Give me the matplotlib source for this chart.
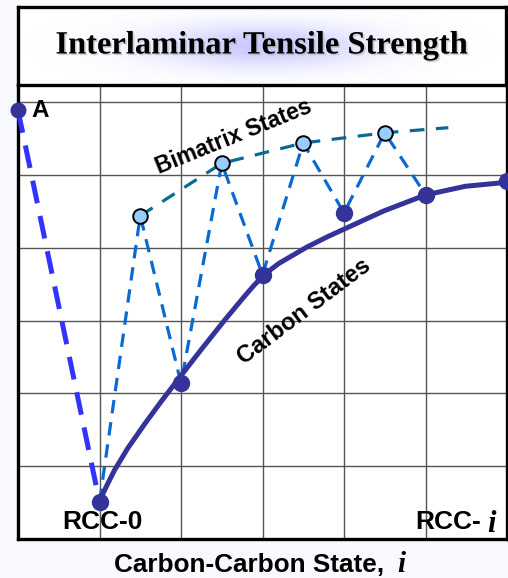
import matplotlib
matplotlib.use('Agg')
import matplotlib.pyplot as plt
import matplotlib.patheffects as pe
import numpy as np

# ── data ─────────────────────────────────────────────────────────────────────
point_a = (0.0, 5.89)

rcc_x = [1, 2, 3, 4, 5, 6]
rcc_y = [0.51, 2.14, 3.63, 4.48, 4.73, 4.92]

bim_x = [1.5, 2.5, 3.5, 4.5]
bim_y = [4.44, 5.16, 5.44, 5.58]

bim_trend_x = [1.5, 2.5, 3.5, 4.5, 5.28]
bim_trend_y = [4.44, 5.16, 5.44, 5.58, 5.65]

carbon_curve_x = [1.0, 1.082, 1.184, 1.347, 1.551, 1.755, 1.992, 2.245,
                  2.531, 2.776, 2.9, 3.0, 3.1, 3.2, 3.33, 3.551, 3.796, 4.0,
                  4.49, 5.0, 5.49, 6.0]
carbon_curve_y = [0.52, 0.717, 0.945, 1.247, 1.575, 1.886, 2.233, 2.598,
                  3.0, 3.33, 3.49, 3.60, 3.70, 3.785, 3.87, 4.014, 4.151,
                  4.256, 4.507, 4.726, 4.845, 4.90]

# zig-zag path: RCC-0 -> bimatrix -> carbon -> ... -> carbon state 5
zig_x, zig_y = [rcc_x[0]], [rcc_y[0]]
for k in range(len(bim_x)):
    zig_x += [bim_x[k], rcc_x[k + 1]]
    zig_y += [bim_y[k], rcc_y[k + 1]]

TITLE = 'Interlaminar Tensile Strength'
XLABEL = 'Carbon-Carbon State,'

# ── style ────────────────────────────────────────────────────────────────────
plt.rcParams['font.family'] = ['Liberation Sans', 'DejaVu Sans']

CARBON = '#333399'
A_BLUE = '#3333ff'
ZIG = '#0a6ad2'
BIM_LINE = '#0a6a96'
BIM_FACE = '#99ccff'

W, H = 508, 578
fig = plt.figure(figsize=(W / 100, H / 100), dpi=100)
fig.patch.set_facecolor('#f8f9fd')

# ── main plot area ───────────────────────────────────────────────────────────
ax = fig.add_axes([18 / W, 39 / H, 489 / W, 454 / H])
ax.set_facecolor('white')
ax.set_xlim(0, 6)
ax.set_ylim(0, 454 / 72.8)
ax.set_xticks(range(7))
ax.set_yticks(range(7))
ax.tick_params(length=0, labelbottom=False, labelleft=False)
ax.grid(True, color='#555555', lw=1.0)
for s in ['left', 'bottom', 'right']:
    ax.spines[s].set_linewidth(2.4)
    ax.spines[s].set_color('black')
ax.spines['top'].set_visible(False)

# A -> RCC-0 dashed line
ax.plot([point_a[0], rcc_x[0]], [point_a[1], rcc_y[0]], color=A_BLUE,
        lw=3.6, dashes=(4.6, 2.6), zorder=3, clip_on=False)

# zig-zag between carbon and bimatrix states
ax.plot(zig_x, zig_y, color=ZIG, lw=2.3, dashes=(4.2, 2.8), zorder=3)

# bimatrix trend
ax.plot(bim_trend_x, bim_trend_y, color=BIM_LINE, lw=2.3,
        dashes=(4.6, 3.6), zorder=3)

# carbon states curve
ax.plot(carbon_curve_x, carbon_curve_y, color=CARBON, lw=3.6,
        solid_joinstyle='round', solid_capstyle='round', zorder=4,
        clip_on=False)

# markers
ax.plot(rcc_x, rcc_y, 'o', color=CARBON, ms=11.5, zorder=6, clip_on=False)
ax.plot(*point_a, 'o', color=CARBON, ms=10.5, zorder=6, clip_on=False)
ax.plot(bim_x, bim_y, 'o', mfc=BIM_FACE, mec='black', mew=1.4, ms=10.5,
        zorder=6)

# labels
ax.text(0.17, 5.88, 'A', fontsize=17.5, fontweight='bold', ha='left',
        va='center', zorder=7)
ax.text(1.03, 0.23, 'RCC-0', fontsize=19, fontweight='bold', ha='center',
        va='center', zorder=7)
ax.text(5.68, 0.23, 'RCC-', fontsize=19, fontweight='bold', ha='right',
        va='center', zorder=7)
ax.text(5.81, 0.10, 'i', fontsize=22, family='Liberation Serif',
        style='italic', fontweight='bold', ha='center', va='baseline',
        zorder=7)
ax.text(3.51, 3.13, 'Carbon States', fontsize=17, fontweight='bold',
        rotation=37, ha='center', va='center', rotation_mode='anchor', zorder=7)
ax.text(2.65, 5.53, 'Bimatrix States', fontsize=16.5, fontweight='bold',
        rotation=22, ha='center', va='center', rotation_mode='anchor', zorder=7)

fig.text(384 / W, 1 - 572 / H, XLABEL, fontsize=18.8, fontweight='bold',
         ha='right', va='baseline')
fig.text(401 / W, 1 - 572 / H, 'i', fontsize=21, family='Liberation Serif',
         style='italic', fontweight='bold', ha='center', va='baseline')

# ── title box ────────────────────────────────────────────────────────────────
tax = fig.add_axes([18 / W, (H - 85) / H, 488 / W, 78 / H])
tax.set_xlim(0, 1)
tax.set_ylim(0, 1)
tax.set_xticks([])
tax.set_yticks([])
tax.set_facecolor('white')
for s in tax.spines.values():
    s.set_linewidth(2.4)
    s.set_color('black')

# soft lavender glow behind the title
gx, gy = np.meshgrid(np.linspace(0, 1, 300), np.linspace(0, 1, 100))
glow = np.exp(-((gx - 0.5) / 0.22) ** 2 - ((gy - 0.5) / 0.28) ** 2)
rgba = np.zeros((100, 300, 4))
rgba[..., 0] = 0.62
rgba[..., 1] = 0.62
rgba[..., 2] = 1.0
rgba[..., 3] = glow * 0.55
tax.imshow(rgba, extent=(0, 1, 0, 1), origin='lower', aspect='auto',
           zorder=1, interpolation='bilinear')

tax.text(0.5, 0.5, TITLE, fontsize=23.4, fontweight='bold',
         family='Liberation Serif', ha='center', va='center', zorder=3,
         path_effects=[pe.withSimplePatchShadow(offset=(1.2, -1.2),
                                                shadow_rgbFace='#aaaaaa',
                                                alpha=0.5)])

fig.savefig('out.png', dpi=100, facecolor=fig.get_facecolor())
